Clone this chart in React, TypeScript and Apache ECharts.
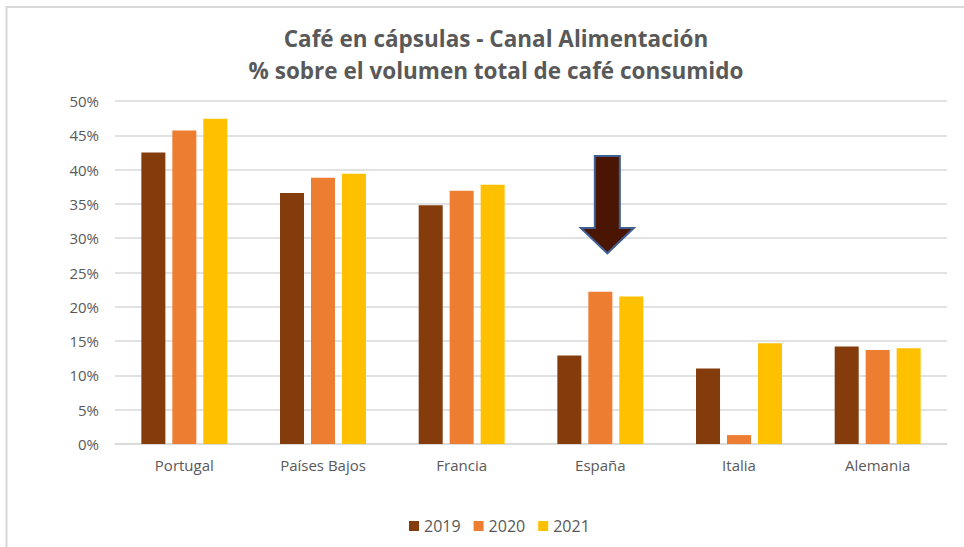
import React, { useEffect, useRef } from "react";
import * as echarts from "echarts";

const categories = ["Portugal", "Países Bajos", "Francia", "España", "Italia", "Alemania"];
const seriesNames = ["2019", "2020", "2021"];
const values2019 = [42.5, 36.6, 34.8, 12.9, 11.0, 14.2];
const values2020 = [45.7, 38.8, 36.9, 22.2, 1.3, 13.7];
const values2021 = [47.4, 39.4, 37.8, 21.5, 14.7, 13.95];
const colors = ["#843C0C", "#ED7D31", "#FFC000"];
const titleLines = ["Café en cápsulas - Canal Alimentación", "% sobre el volumen total de café consumido"];
// arrow annotation (category, top value, head base value, tip value)
const arrowCategory = "España";
const arrowTop = 42.0;
const arrowHeadBase = 31.5;
const arrowTip = 27.8;

export default function App() {
  const ref = useRef<HTMLDivElement>(null);
  useEffect(() => {
    if (!ref.current) return;
    const chart = echarts.init(ref.current, null, { renderer: "svg" });
    const font = "'Open Sans', 'Liberation Sans', Arial, sans-serif";
    const allSeries = [values2019, values2020, values2021].map((d, i) => ({
      name: seriesNames[i],
      type: "bar" as const,
      data: d,
      barGap: "29%",
      barCategoryGap: "38%",
      itemStyle: { color: colors[i] },
    }));
    chart.setOption({
      animation: false,
      backgroundColor: "#ffffff",
      textStyle: { fontFamily: font },
      title: {
        text: titleLines.join("\n"),
        left: 491,
        top: 17,
        textAlign: "center",
        textStyle: {
          fontFamily: font,
          fontWeight: "bold",
          fontSize: 22.5,
          lineHeight: 32,
          color: "#595959",
        },
      },
      legend: {
        bottom: 8,
        left: 404,
        itemWidth: 10,
        itemHeight: 10,
        itemGap: 13,
        icon: "rect",
        textStyle: { color: "#595959", fontSize: 16, fontFamily: font },
        data: seriesNames,
      },
      grid: { left: 115, right: 17, top: 101, bottom: 103, containLabel: false },
      xAxis: {
        type: "category",
        data: categories,
        axisTick: { show: false },
        axisLine: { lineStyle: { color: "#d9d9d9", width: 1.5 } },
        axisLabel: { color: "#595959", fontSize: 15, margin: 13, fontFamily: font },
      },
      yAxis: {
        type: "value",
        min: 0,
        max: 50,
        interval: 5,
        axisLabel: { formatter: "{value}%", color: "#595959", fontSize: 15, margin: 16, fontFamily: font },
        splitLine: { lineStyle: { color: "#d9d9d9", width: 1.5 } },
        axisLine: { show: false },
        axisTick: { show: false },
      },
      series: allSeries,
    });

    const [cx, yTop] = chart.convertToPixel({ xAxisIndex: 0, yAxisIndex: 0 }, [arrowCategory, arrowTop]) as number[];
    const yBase = (chart.convertToPixel({ xAxisIndex: 0, yAxisIndex: 0 }, [arrowCategory, arrowHeadBase]) as number[])[1];
    const yTip = (chart.convertToPixel({ xAxisIndex: 0, yAxisIndex: 0 }, [arrowCategory, arrowTip]) as number[])[1];
    const ax = cx + 7;
    const shaft = 12.5;
    const head = 26.5;
    chart.setOption({
      graphic: [
        {
          type: "rect",
          shape: { x: 6.5, y: 7, width: 1000, height: 600 },
          style: { fill: "none", stroke: "#d9d9d9", lineWidth: 2 },
          silent: true,
        },
        {
          type: "polygon",
          shape: {
            points: [
              [ax - shaft, yTop],
              [ax + shaft, yTop],
              [ax + shaft, yBase],
              [ax + head, yBase],
              [ax, yTip],
              [ax - head, yBase],
              [ax - shaft, yBase],
            ],
          },
          style: { fill: "#4A1503", stroke: "#3F5F93", lineWidth: 2 },
          z: 100,
        },
      ],
    });
    return () => chart.dispose();
  }, []);
  return (
    <div
      ref={ref}
      style={{ position: "fixed", left: 0, top: 0, width: 964, height: 547 }}
    />
  );
}
